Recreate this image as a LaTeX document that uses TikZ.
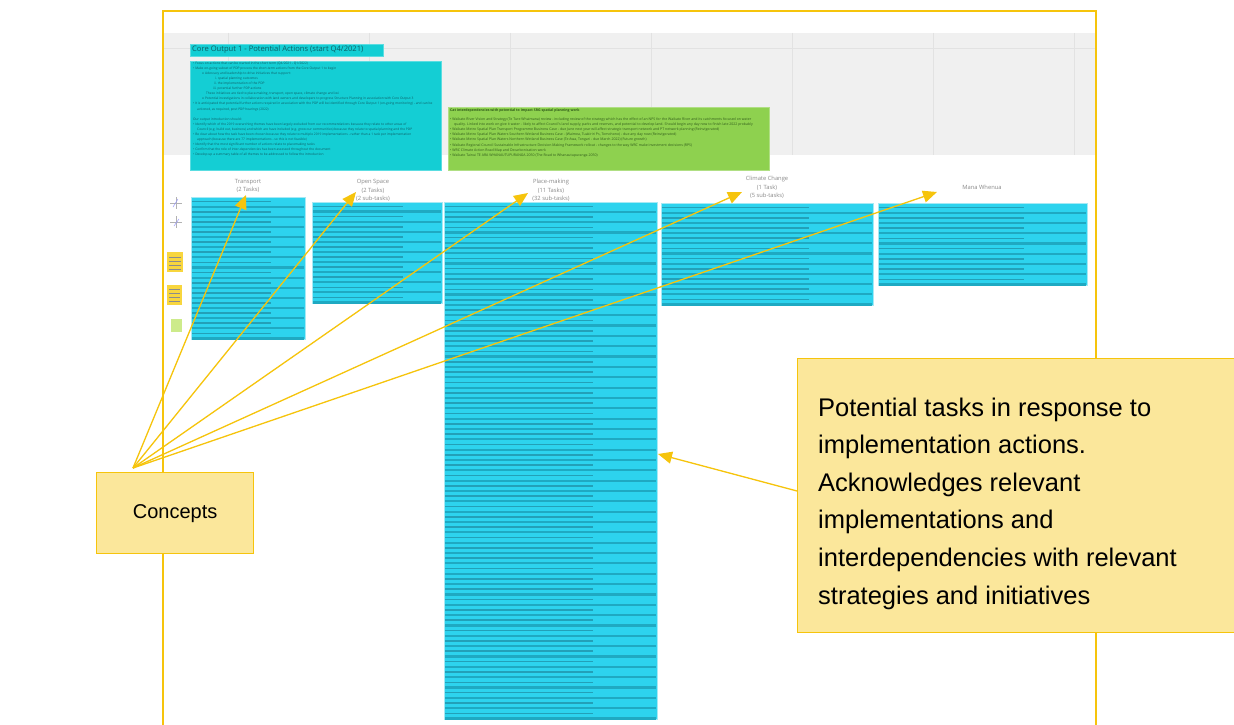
\documentclass[tikz,border=0pt]{standalone}
\usepackage{fontspec}
\setmainfont{Liberation Sans}
\newfontfamily\osans{Open Sans}
\usetikzlibrary{arrows.meta}
\definecolor{gold}{HTML}{F6C40C}
\definecolor{callfill}{HTML}{FBE79B}
\definecolor{band}{HTML}{F0F0F0}
\definecolor{gridc}{HTML}{E2E2E2}
\definecolor{tealbox}{HTML}{14CED4}
\definecolor{tealtxt}{HTML}{0D5E66}
\definecolor{greenbox}{HTML}{8ED14F}
\definecolor{greentxt}{HTML}{2F5A1A}
\definecolor{blk}{HTML}{2DD3EE}
\definecolor{blkedge}{HTML}{A6E9F4}
\definecolor{rowc}{HTML}{1FA9C2}
\definecolor{txtc}{HTML}{23A0B8}
\definecolor{labelc}{HTML}{8A8A8A}
\definecolor{stickyc}{HTML}{F8D63E}
\definecolor{lgreen}{HTML}{CDEB8B}
\newcommand{\taskrows}[5]{%
  \pgfmathsetmacro{\rh}{(#4-#2)/#5}%
  \pgfmathsetmacro{\xm}{#1+0.7*(#3-#1)}%
  \foreach \k in {1,...,#5}{%
    \pgfmathsetmacro{\ya}{#2+(\k-1)*\rh+0.45*\rh}%
    \pgfmathsetmacro{\yb}{#2+(\k-1)*\rh+0.95*\rh}%
    \fill[txtc] (#1+1,\ya-0.8) rectangle (\xm,\ya+0.8);
    \fill[rowc] (#1+1,\yb-1.1) rectangle (#3-1,\yb+1.1);
  }}
\begin{document}
\begin{tikzpicture}[x=1pt,y=-1pt,
  taskblock/.style={draw=blkedge, fill=blk, line width=0.8, inner sep=0, anchor=north west},
  colabel/.style={font=\osans\fontsize{5.8}{8.5}\selectfont, text=labelc, align=center, inner sep=0},
  callout/.style={draw=gold, fill=callfill, line width=1.3, inner sep=0, anchor=north west},
  calltext/.style={font=\fontsize{25.5}{30}\selectfont, text=black, inner sep=0, anchor=base west},
  arr/.style={draw=gold, line width=1.3, -{Triangle[length=14,width=12]}, fill=gold},
  tinytext/.style={inner sep=0, anchor=north west, align=left}]
\useasboundingbox (0,0) rectangle (1234,725);
\fill[white] (0,0) rectangle (1234,725);
% grey board band
\fill[band] (164,33) rectangle (1095,155);
\foreach \gx in {228,369,510,651,792,933,1074} \draw[gridc, line width=0.8] (\gx,33) -- (\gx,155);
\draw[gridc, line width=0.8] (164,48) -- (1095,48);
% frame
\draw[gold, line width=2] (163,730) -- (163,11) -- (1096,11) -- (1096,730);
% title
\node[fill=tealbox, draw=tealbox!70!white, line width=0.6, minimum width=193, minimum height=12, inner sep=0, anchor=north west] (title) at (190,44) {};
\node[anchor=west, inner sep=0, font=\osans\fontsize{7.6}{9}\selectfont, text=tealtxt] (titletext) at (192,50) {Core Output 1 - Potential Actions (start Q4/2021)};
% actions box
\node[fill=tealbox, draw=tealbox!70!white, line width=0.6, minimum width=251, minimum height=109, inner sep=0, anchor=north west] (actions) at (190,61) {};
\node[tinytext, font=\osans\fontsize{3.25}{5.1}\selectfont, text=tealtxt] (actionstext) at (193,61.5) {%
• Focus on actions that can be started in the short term (Q4/2021 - Q1/2022)\\
• Make on-going subset of PDP process the short-term actions from the Core Output 1 to begin\\
\hspace*{9pt}o Advocacy and leadership to drive initiatives that support:\\
\hspace*{22pt}i. spatial planning outcomes\\
\hspace*{21pt}ii. the implementation of the PDP\\
\hspace*{20pt}iii. potential further PDP actions\\
\hspace*{13pt}These initiatives are tied to place-making, transport, open space, climate change and iwi\\
\hspace*{9pt}o Potential investigations in collaboration with land owners and developers to progress Structure Planning in association with Core Output 3\\
• It is anticipated that potential further actions required in association with the PDP will be identified through Core Output 1 (on-going monitoring) - and can be\\
\hspace*{4pt}actioned, as required, post PDP hearings (2022)\\[5.1pt]
Our output introduction should:\\
• Identify which of the 2019 overarching themes have been largely excluded from our recommendations because they relate to other areas of\\
\hspace*{4pt}Council (e.g. build out, business) and which are have included (e.g. grow our communities) because they relate to spatial planning and the PDP\\
• Be clear about how the task have been chosen because they relate to multiple 2019 implementations - rather than a 1 task per implementation\\
\hspace*{4pt}approach (because there are 77 implementations - so this is not feasible)\\
• Identify that the most significant number of actions relate to placemaking tasks\\
• Confirm that the role of inter-dependencies has been assessed throughout the document\\
• Develop up a summary table of all themes to be addressed to follow the introduction};
% interdependencies box
\node[fill=greenbox, draw=greenbox!70!white, line width=0.6, minimum width=321, minimum height=63, inner sep=0, anchor=north west] (interdep) at (448,107) {};
\node[tinytext, font=\osans\fontsize{3.5}{5.2}\selectfont, text=greentxt] (interdeptext) at (450,109) {%
\textbf{Cat interdependencies with potential to impact SRG spatial planning work}\\[3pt]
• Waikato River Vision and Strategy (Te Ture Whaimana) review - including review of the strategy which has the effect of an NPS for the Waikato River and its catchments focused on water\\
\hspace*{4pt}quality. Linked into work on give it water - likely to affect Council's land supply, parks and reserves, and potential to develop land. Should begin any day now to finish late 2022 probably\\
• Waikato Metro Spatial Plan Transport Programme Business Case - due June next year will affect strategic transport network and PT network planning (Reinvigorated)\\
• Waikato Metro Spatial Plan Waters Southern Wetland Business Case - (Waimea, Tuakiriri Ps, Tomohono) - due any day now (Reinvigorated)\\
• Waikato Metro Spatial Plan Waters Northern Wetland Business Case (Te Awa, Tongari - due March 2022) (Future growth)\\
• Waikato Regional Council Sustainable Infrastructure Decision Making Framework rollout - changes to the way WRC make investment decisions (RPS)\\
• WRC Climate Action Road Map and Decarbonisation work\\
• Waikato Tainui TE ARA WHANAUTUPURANGA 2050 (The Road to Whanautupuranga 2050)};
% left-side small items
\fill[white] (165,190) rectangle (190,238);
\draw[gray!60, line width=0.4] (170,203) -- (182,203) (176,197) -- (176,209) (170,222) -- (182,222) (176,216) -- (176,228);
\draw[blue!40, line width=0.5] (173,207) -- (178,199) (174,226) -- (179,219);
\node[fill=stickyc, minimum width=16, minimum height=20, inner sep=0, anchor=north west] (sticky1) at (167,252) {};
\node[fill=stickyc, minimum width=15, minimum height=20, inner sep=0, anchor=north west] (sticky2) at (167,285) {};
\foreach \sy in {257,261,265,269} \draw[black!45, line width=0.35] (169,\sy) -- (181,\sy);
\foreach \sy in {289,293,297,301} \draw[black!45, line width=0.35] (169,\sy) -- (180,\sy);
\node[fill=lgreen, minimum width=11, minimum height=13, inner sep=0, anchor=north west] (greensq) at (171,319) {};
% task blocks
\node[taskblock, minimum width=114, minimum height=142] (transport) at (191,197) {};
\taskrows{191}{197}{305}{339}{14}
\node[taskblock, minimum width=130, minimum height=101] (openspace) at (312,202) {};
\taskrows{312}{202}{442}{303}{10}
\node[taskblock, minimum width=213, minimum height=517] (placemaking) at (444,202) {};
\taskrows{444}{202}{657}{719}{50}
\node[taskblock, minimum width=212, minimum height=102] (climate) at (661,203) {};
\taskrows{661}{203}{873}{305}{10}
\node[taskblock, minimum width=209, minimum height=82] (manawhenua) at (878,203) {};
\taskrows{878}{203}{1087}{285}{8}
% column labels
\node[colabel] (transportlab) at (248,186) {Transport\\(2 Tasks)};
\node[colabel] (openspacelab) at (373,190.5) {Open Space\\(2 Tasks)\\(2 sub-tasks)};
\node[colabel] (placemakinglab) at (551,190.5) {Place-making\\(11 Tasks)\\(32 sub-tasks)};
\node[colabel] (climatelab) at (767,187.5) {Climate Change\\(1 Task)\\(5 sub-tasks)};
\node[colabel] (manawhenualab) at (982,187) {Mana Whenua};
% callouts
\node[callout, minimum width=157, minimum height=81, font=\fontsize{20}{24}\selectfont] (concepts) at (96,472) {Concepts};
\node[callout, minimum width=460, minimum height=274] (potbox) at (797,358) {};
\node[calltext] (pl1) at (818,416) {Potential tasks in response to};
\node[calltext] (pl2) at (818,453.6) {implementation actions.};
\node[calltext] (pl3) at (818,491.2) {Acknowledges relevant};
\node[calltext] (pl4) at (818,528.8) {implementations and};
\node[calltext] (pl5) at (818,566.4) {interdependencies with relevant};
\node[calltext] (pl6) at (818,604) {strategies and initiatives};
% connectors
\coordinate (cp) at (133,468);
\coordinate (t1) at (246,195);
\coordinate (t2) at (356,192);
\coordinate (t3) at (528,193);
\coordinate (t4) at (742,192);
\coordinate (t5) at (937,192);
\coordinate (pmtip) at (658,454);
\coordinate (potstart) at (797,491);
\foreach \t in {t1,t2,t3,t4,t5} \draw[arr] (cp) -- (\t);
\draw[arr] (potstart) -- (pmtip);
\end{tikzpicture}
\end{document}
